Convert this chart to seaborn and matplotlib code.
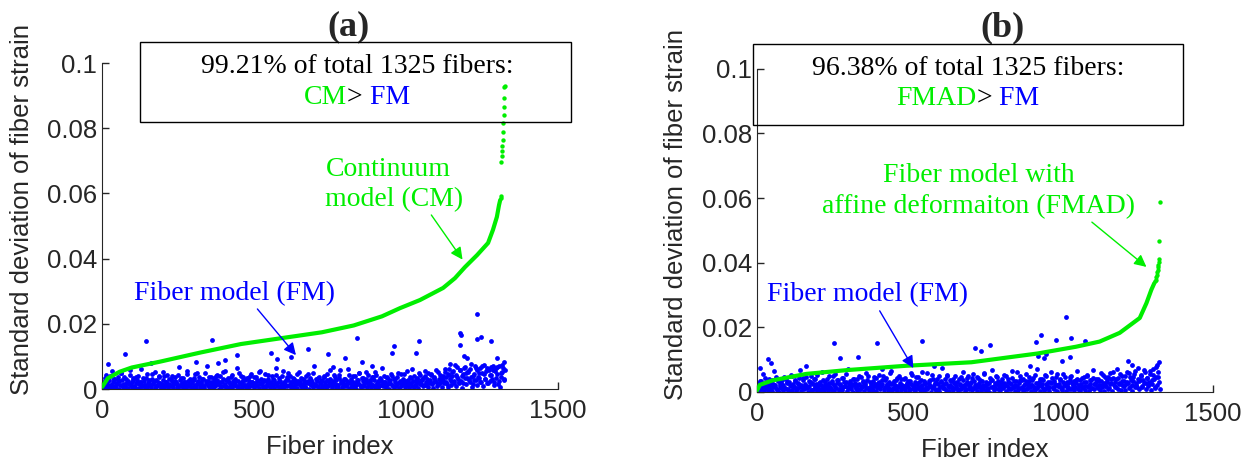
import numpy as np
import pandas as pd
import matplotlib
matplotlib.use("Agg")
import matplotlib.pyplot as plt
from matplotlib.patches import Rectangle
from matplotlib.offsetbox import TextArea, HPacker, AnnotationBbox
import seaborn as sns

# ===================== DATA =====================
n_fibers = 1325

# (a) continuum model, sorted ascending -> smooth curve + sparse tail dots
cm_idx = [1, 19, 58, 98, 191, 324, 457, 590, 723, 828, 921, 980, 1046, 1122,
          1161, 1194, 1234, 1270, 1286, 1299, 1306, 1310]
cm_val = [0.0007, 0.0033, 0.0053, 0.0066, 0.0084, 0.0112, 0.0138, 0.0156, 0.0174,
          0.0195, 0.0223, 0.0248, 0.0273, 0.0310, 0.0340, 0.0374, 0.0411, 0.0448,
          0.0488, 0.0528, 0.0564, 0.0580]
cm_tail_idx = [1312, 1313, 1314, 1315, 1316, 1317, 1318, 1319, 1320, 1321, 1322, 1323, 1324, 1325]
cm_tail_val = [0.0585, 0.0592, 0.0697, 0.0715, 0.0730, 0.0745, 0.0765, 0.0790,
               0.0816, 0.0840, 0.0865, 0.0893, 0.0926, 0.0930]

# (b) fiber model with affine deformation
fmad_idx = [1, 10, 52, 163, 300, 489, 706, 923, 1050, 1128, 1194, 1260, 1282, 1298, 1308]
fmad_val = [0.0005, 0.0022, 0.0036, 0.0056, 0.0068, 0.0081, 0.0092, 0.0119, 0.0140,
            0.0156, 0.0183, 0.0229, 0.0275, 0.0316, 0.0337]
fmad_tail_idx = [1310, 1312, 1314, 1316, 1318, 1319, 1320, 1321, 1322, 1323, 1324, 1325]
fmad_tail_val = [0.0342, 0.0348, 0.0355, 0.0362, 0.0370, 0.0378, 0.0386, 0.0394,
                 0.0402, 0.0410, 0.0467, 0.0588]

# fiber model values (in 1e-3) for fibers 1, 5, 9, ...
fm_a_milli = [
    0.3, 1.8, 0.6, 4.2, 0.9, 2.4, 0.2, 1.1, 5.6, 0.7, 3.1, 0.4, 1.5, 2.7, 0.1, 4.8, 1.2, 0.5, 3.6, 0.8,
    2.1, 0.3, 1.4, 5.9, 0.6, 2.9, 1.0, 0.2, 3.8, 1.7, 0.4, 2.2, 6.1, 0.9, 1.3, 0.1, 3.3, 0.7, 2.6, 1.1,
    0.5, 4.5, 1.9, 0.2, 2.8, 0.8, 1.4, 3.9, 0.3, 1.6, 5.2, 0.6, 2.3, 0.9, 0.1, 3.0, 1.2, 4.1, 0.4, 1.8,
    2.5, 0.7, 0.2, 6.8, 1.3, 3.4, 0.5, 1.0, 2.0, 0.3, 4.6, 1.5, 0.8, 2.7, 0.1, 3.5, 1.1, 0.6, 5.0, 2.2,
    0.4, 1.7, 3.2, 0.9, 0.2, 2.4, 7.2, 1.3, 0.6, 3.7, 1.9, 0.3, 2.9, 0.8, 4.3, 1.4, 0.1, 2.1, 0.5, 3.1,
    1.0, 5.5, 0.7, 2.6, 0.2, 1.6, 3.8, 0.4, 1.2, 2.3, 0.9, 6.3, 0.3, 1.8, 4.0, 0.6, 2.8, 1.1, 0.2, 3.3,
    1.5, 0.5, 4.7, 2.0, 0.8, 0.1, 3.6, 1.3, 2.5, 0.4, 5.4, 1.7, 0.7, 2.9, 0.3, 1.0, 4.4, 2.2, 0.6, 1.4,
    3.0, 0.2, 1.9, 6.5, 0.9, 2.4, 0.5, 1.2, 3.9, 0.3, 1.6, 2.7, 0.8, 4.9, 1.1, 0.2, 2.1, 3.4, 0.6, 1.5,
    0.4, 2.6, 5.1, 1.0, 0.3, 3.2, 1.8, 0.7, 2.3, 4.6, 0.1, 1.4, 2.9, 0.5, 7.0, 1.2, 0.8, 3.5, 0.2, 1.9,
    2.4, 0.6, 4.1, 1.3, 0.3, 2.8, 0.9, 5.8, 1.6, 0.4, 2.0, 3.7, 0.7, 1.1, 0.2, 4.3, 2.5, 0.5, 1.7, 3.1,
    0.8, 1.4, 6.0, 0.3, 2.2, 1.0, 3.9, 0.6, 1.8, 0.1, 2.7, 4.8, 1.2, 0.4, 3.3, 0.9, 2.0, 5.3, 0.5, 1.5,
    2.9, 0.2, 1.1, 3.6, 0.7, 4.4, 1.9, 0.3, 2.5, 1.3, 6.6, 0.8, 2.1, 0.4, 3.4, 1.6, 0.1, 2.8, 4.0, 1.0,
    0.6, 3.1, 1.4, 5.0, 0.3, 2.3, 0.9, 1.7, 4.5, 0.5, 2.6, 1.2, 0.2, 3.8, 1.9, 6.2, 0.7, 2.4, 1.1, 3.5,
    0.4, 4.2, 1.5, 2.9, 0.8, 5.6, 1.3, 3.2, 0.6, 2.1, 4.7, 1.8, 0.3, 3.6, 2.5, 0.9, 5.1, 1.4, 2.8, 0.5,
    3.9, 1.7, 6.0, 2.3, 0.7, 4.4, 3.0, 1.2, 5.3, 2.6, 7.4, 0.9, 3.7, 1.9, 5.8, 2.4, 0.4, 4.6, 6.7, 1.5,
    3.3, 5.5, 2.0, 7.8, 0.6, 4.1, 2.9, 6.3, 1.3, 3.8, 5.0, 2.2, 7.1, 0.8, 4.7, 3.1, 6.6, 1.7, 5.9, 2.6,
    4.3, 7.0, 1.1, 5.4, 3.5, 6.8, 2.4, 0.5, 4.9, 7.5, 3.0, 5.7,
]
# fibers 3, 7, 11, ...
fm_a_milli_2 = [
    2.2, 1.0, 3.4, 1.6, 0.8, 2.7, 4.1, 1.3, 2.0, 3.0, 0.9, 1.9, 3.7, 2.4, 1.2, 5.0, 2.8, 1.5, 0.7, 3.2,
    1.8, 2.6, 4.4, 1.1, 2.3, 3.5, 0.6, 1.7, 2.9, 4.0, 1.4, 2.1, 0.9, 3.3, 2.5, 1.2, 4.6, 1.9, 2.8, 0.8,
    3.1, 1.5, 2.4, 5.3, 1.0, 2.0, 3.6, 1.7, 0.7, 2.7, 3.9, 1.3, 2.2, 4.3, 1.6, 0.9, 3.0, 2.5, 1.1, 3.8,
    2.1, 1.4, 4.2, 2.9, 0.8, 1.8, 3.4, 2.3, 1.2, 5.6, 2.6, 1.0, 3.2, 1.9, 0.7, 2.8, 4.5, 1.5, 2.4, 3.6,
    1.3, 2.0, 3.0, 0.9, 4.8, 1.7, 2.5, 3.7, 1.1, 2.2, 0.8, 3.3, 1.9, 4.1, 2.7, 1.4, 3.9, 1.0, 2.3, 5.2,
    1.6, 2.9, 0.7, 3.5, 2.1, 1.2, 4.4, 2.6, 1.8, 3.1, 0.9, 2.4, 4.9, 1.5, 2.0, 3.8, 1.3, 2.7, 1.0, 3.4,
    2.5, 4.0, 1.1, 2.2, 3.6, 1.7, 0.8, 2.9, 5.1, 1.4, 3.2, 2.0, 1.0, 4.5, 2.6, 1.6, 3.0, 0.7, 2.3, 3.9,
    1.2, 2.8, 4.3, 1.9, 0.9, 3.4, 2.4, 1.5, 5.5, 2.1, 1.0, 3.7, 2.7, 1.3, 4.1, 2.0, 0.8, 3.1, 1.8, 2.5,
    4.6, 1.4, 2.3, 3.3, 1.1, 2.9, 0.7, 4.0, 1.7, 2.6, 3.5, 1.2, 2.1, 5.0, 1.5, 3.0, 2.4, 0.9, 3.8, 1.9,
    2.7, 1.0, 3.6, 2.2, 4.7, 1.3, 2.0, 3.2, 0.8, 2.5, 4.2, 1.6, 2.9, 1.1, 3.4, 5.7, 1.8, 2.3, 0.9, 3.0,
    1.4, 2.6, 4.4, 1.7, 3.1, 0.8, 2.2, 3.9, 1.2, 2.8, 1.9, 4.9, 1.0, 3.5, 2.4, 1.5, 3.0, 2.1, 4.3, 1.3,
    2.0, 3.7, 1.1, 2.9, 5.2, 1.6, 2.4, 0.9, 3.3, 2.7, 1.4, 4.1, 2.2, 1.0, 3.6, 2.5, 1.8, 4.7, 1.2, 3.1,
    2.3, 0.8, 3.8, 1.9, 2.6, 4.5, 1.5, 3.0, 2.1, 1.1, 5.4, 2.8, 1.7, 3.4, 0.9, 2.4, 4.0, 1.3, 3.2, 2.0,
    4.8, 1.6, 2.7, 3.5, 1.2, 3.9, 2.2, 5.0, 1.8, 2.9, 4.2, 1.4, 3.3, 2.5, 5.8, 1.9, 3.0, 4.4, 2.3, 3.7,
    2.8, 5.1, 3.6, 1.5, 4.7, 6.2, 2.4, 3.9, 5.5, 1.9, 4.3, 6.9, 3.1, 2.2, 5.9, 4.0, 1.7, 6.4, 3.4, 4.8,
    5.2, 2.7, 6.0, 3.8, 1.4, 4.6, 7.0, 2.9, 5.7, 3.5, 6.5, 2.1, 4.9, 7.3, 3.2, 5.4, 1.8, 6.1, 4.2, 6.8,
    3.0, 5.8, 2.3, 6.6, 4.5, 1.6, 7.1, 3.7, 5.1, 6.3, 2.8,
]
fm_b_milli = [
    1.2, 0.4, 3.3, 0.8, 2.1, 5.7, 0.2, 1.6, 2.9, 0.6, 4.0, 1.0, 0.3, 2.5, 6.4, 1.4, 0.7, 3.6, 0.1, 1.9,
    2.7, 0.5, 4.6, 1.3, 0.9, 3.1, 0.2, 2.2, 5.2, 0.7, 1.5, 3.8, 0.4, 1.1, 2.6, 6.9, 0.3, 1.7, 4.3, 0.8,
    2.0, 1.2, 0.1, 3.5, 5.0, 0.6, 2.4, 1.0, 4.1, 0.3, 1.8, 2.8, 0.7, 6.1, 1.4, 0.2, 3.2, 2.1, 0.5, 4.8,
    1.6, 0.9, 2.9, 0.4, 5.5, 1.2, 3.7, 0.2, 2.3, 1.0, 0.6, 4.4, 1.9, 3.0, 0.3, 7.1, 1.5, 0.8, 2.6, 0.1,
    3.9, 1.3, 0.5, 2.2, 4.9, 0.9, 1.7, 3.4, 0.2, 2.7, 6.0, 1.1, 0.4, 3.1, 1.8, 0.7, 4.5, 2.4, 0.3, 1.4,
    5.3, 0.8, 2.0, 3.6, 0.1, 1.6, 4.2, 2.5, 0.6, 1.0, 6.6, 0.4, 2.9, 1.3, 3.8, 0.2, 1.9, 5.1, 0.7, 2.3,
    1.1, 4.0, 0.5, 2.6, 1.5, 0.3, 3.3, 5.8, 0.9, 2.1, 0.2, 4.7, 1.2, 3.0, 0.6, 1.8, 6.3, 0.4, 2.8, 1.4,
    0.8, 3.5, 2.0, 0.1, 5.4, 1.6, 2.7, 0.5, 4.1, 1.0, 0.3, 3.2, 7.3, 1.3, 2.4, 0.7, 4.8, 1.9, 0.2, 3.7,
    1.5, 0.6, 2.9, 5.0, 1.1, 0.4, 3.9, 2.2, 0.8, 6.2, 1.4, 0.2, 2.6, 4.4, 0.9, 1.7, 3.1, 0.5, 5.6, 1.2,
    2.3, 0.3, 4.3, 1.8, 0.7, 3.4, 1.0, 5.9, 0.4, 2.5, 1.3, 0.1, 3.6, 6.8, 1.6, 0.6, 2.8, 4.6, 0.9, 1.9,
    0.5, 3.0, 1.4, 5.2, 2.1, 0.2, 4.0, 1.1, 2.7, 0.8, 6.5, 1.7, 0.3, 3.3, 2.0, 0.6, 4.9, 1.2, 3.8, 0.4,
    2.4, 5.7, 0.9, 1.5, 3.5, 0.2, 2.2, 4.2, 1.0, 0.5, 7.0, 1.8, 2.9, 0.3, 3.9, 1.3, 0.7, 5.3, 2.6, 1.1,
    0.4, 3.2, 6.1, 1.6, 0.8, 2.5, 4.5, 0.2, 1.9, 3.7, 1.2, 0.6, 5.5, 2.1, 0.3, 3.0, 1.5, 4.7, 0.9, 2.8,
    1.7, 0.5, 3.6, 6.4, 1.0, 2.3, 0.3, 4.4, 1.4, 3.1, 0.7, 5.0, 2.0, 0.2, 3.8, 1.3, 6.7, 0.8, 2.6, 4.1,
    1.1, 3.4, 0.6, 5.8, 2.2, 0.4, 4.6, 1.8, 3.0, 0.9, 6.0, 2.7, 0.3, 4.3, 1.5, 3.9, 7.2, 1.0, 2.4, 0.5,
    5.1, 1.9, 3.5, 0.7, 6.2, 2.8, 1.2, 4.5, 0.4, 3.3, 5.6, 1.6, 2.1, 7.5, 0.8, 3.7, 4.9, 1.4, 2.9, 6.1,
    1.0, 4.2, 2.5, 6.6, 0.6, 3.6, 5.2, 1.3, 7.8, 2.2, 4.7, 0.9,
]
fm_b_milli_2 = [
    1.9, 2.8, 0.9, 3.5, 1.4, 2.3, 4.2, 1.1, 3.0, 2.0, 0.7, 2.6, 3.8, 1.6, 2.2, 4.6, 1.0, 3.3, 2.5, 1.3,
    3.6, 2.1, 1.2, 4.0, 2.7, 0.8, 3.1, 1.8, 5.0, 2.4, 1.5, 3.4, 0.9, 2.9, 4.3, 1.7, 2.2, 3.7, 1.1, 2.6,
    4.5, 1.4, 2.0, 3.2, 0.7, 2.8, 3.9, 1.6, 2.4, 5.3, 1.2, 3.0, 2.1, 0.9, 3.6, 2.5, 1.3, 4.1, 1.9, 2.7,
    1.0, 3.3, 4.8, 2.2, 1.5, 2.9, 3.7, 0.8, 2.4, 4.4, 1.7, 3.1, 2.0, 5.6, 1.2, 2.6, 3.5, 1.4, 4.0, 2.3,
    2.8, 1.1, 3.9, 2.5, 0.9, 4.7, 1.8, 3.0, 2.2, 1.3, 3.6, 5.1, 1.6, 2.7, 0.8, 3.4, 2.0, 4.3, 1.5, 2.9,
    3.2, 1.9, 2.4, 4.9, 1.0, 3.7, 2.1, 1.4, 3.0, 5.8, 2.6, 1.2, 3.5, 2.3, 0.9, 4.2, 1.7, 2.8, 3.9, 1.3,
    2.0, 4.4, 1.6, 2.7, 3.3, 0.8, 2.4, 5.2, 1.9, 3.1, 1.1, 2.5, 4.6, 1.5, 3.8, 2.2, 1.0, 3.4, 2.9, 6.0,
    1.4, 2.6, 3.6, 1.2, 4.1, 2.1, 0.9, 3.0, 2.4, 4.8, 1.7, 3.3, 2.0, 1.3, 3.9, 2.7, 5.4, 1.6, 2.3, 3.5,
    1.1, 4.0, 2.8, 1.8, 3.2, 0.8, 2.5, 4.5, 1.5, 3.7, 2.2, 1.0, 3.0, 5.0, 1.9, 2.6, 4.2, 1.3, 3.4, 2.1,
    4.7, 1.6, 2.9, 3.8, 1.2, 2.3, 5.5, 1.9, 3.1, 0.9, 2.7, 4.3, 1.4, 3.6, 2.0, 1.1, 4.9, 2.5, 3.3, 1.7,
    2.4, 3.9, 1.3, 2.8, 5.1, 1.8, 3.2, 0.9, 2.6, 4.4, 1.5, 3.5, 2.1, 6.2, 1.2, 2.9, 3.7, 1.6, 4.1, 2.3,
    1.0, 3.4, 2.5, 4.6, 1.7, 2.2, 3.8, 1.4, 5.3, 2.7, 1.1, 3.1, 4.0, 1.9, 2.4, 3.6, 0.8, 4.8, 2.0, 3.0,
    1.5, 2.8, 4.3, 1.2, 3.5, 2.1, 5.7, 1.8, 2.6, 3.9, 1.3, 3.2, 2.3, 4.5, 1.6, 2.9, 1.0, 3.7, 5.0, 2.2,
    3.3, 1.4, 2.7, 4.1, 1.9, 3.6, 2.4, 1.1, 4.7, 2.0, 3.0, 5.4, 1.7, 2.6, 3.8, 1.2, 4.4, 2.5, 3.1, 1.6,
    4.0, 2.3, 3.4, 1.5, 5.2, 2.8, 1.9, 3.7, 4.6, 1.3, 2.5, 3.9, 6.1, 2.1, 3.2, 1.7, 4.3, 2.9, 5.6, 2.4,
    3.5, 1.8, 4.8, 2.6, 3.1, 5.9, 1.4, 3.8, 2.2, 4.5, 6.4, 2.9, 1.6, 4.1, 3.3, 5.3, 2.0, 3.6, 6.8, 2.7,
    4.4, 1.9, 3.2, 5.5, 2.5, 7.0, 3.9, 1.5, 4.7, 6.3, 3.0,
]
# isolated high FM values: (fiber index, value in 1e-3)
fm_a_out_idx = [21, 76, 145, 162, 310, 362, 383, 403, 443, 557, 574, 623, 677, 743, 761, 800,
                838, 854, 887, 954, 961, 1033, 1042, 1146, 1179, 1181, 1179, 1192, 1201, 1232,
                1235, 1248, 1279, 1301, 1321]
fm_a_out_milli = [7.7, 10.8, 14.6, 8.1, 8.4, 15.1, 7.9, 8.9, 10.5, 11.2, 9.1, 9.9, 12.2, 10.8, 6.9, 9.4,
                  15.6, 8.4, 7.1, 11.0, 13.2, 11.2, 14.8, 7.7, 17.3, 16.6, 13.5, 10.2, 9.6, 23.1,
                  15.4, 15.9, 14.8, 9.4, 8.4]
fm_b_out_idx = [12, 38, 47, 163, 255, 275, 334, 397, 413, 545, 584, 718, 737, 768, 900, 920, 926,
                935, 946, 953, 986, 1005, 1016, 1032, 1034, 1080, 1222, 1236, 1316, 1324]
fm_b_out_milli = [7.4, 10.3, 9.0, 8.0, 15.1, 10.5, 10.7, 15.3, 7.2, 15.9, 8.0, 13.6, 12.6, 14.6, 8.0,
                  15.4, 11.0, 17.7, 10.5, 11.7, 16.1, 9.5, 23.3, 10.7, 16.6, 15.8, 9.5, 8.5, 8.5, 9.3]

# ===================== TABLES =====================
fm_x1 = np.arange(1, n_fibers + 1, 4)
fm_x2 = np.arange(3, n_fibers + 1, 4)
fm_a = pd.DataFrame({"idx": np.r_[fm_x1, fm_x2, fm_a_out_idx],
                     "val": np.r_[fm_a_milli, fm_a_milli_2, fm_a_out_milli] / 1000})
fm_b = pd.DataFrame({"idx": np.r_[fm_x1, fm_x2, fm_b_out_idx],
                     "val": np.r_[fm_b_milli, fm_b_milli_2, fm_b_out_milli] / 1000})
cm = pd.DataFrame({"idx": cm_idx, "val": cm_val})
cm_tail = pd.DataFrame({"idx": cm_tail_idx, "val": cm_tail_val})
fmad = pd.DataFrame({"idx": fmad_idx, "val": fmad_val})
fmad_tail = pd.DataFrame({"idx": fmad_tail_idx, "val": fmad_tail_val})

# ===================== STYLE =====================
sns.set_style("ticks")
plt.rcParams['font.family'] = ['Liberation Sans', 'DejaVu Sans']
plt.rcParams['xtick.direction'] = 'in'
plt.rcParams['ytick.direction'] = 'in'

GREEN = "#00ee00"
BLUE = "#0000ff"
AX_COL = "#262626"
SERIF = ['Liberation Serif', 'DejaVu Serif']

fig = plt.figure(figsize=(12.55, 4.65), dpi=100)
ax_a = fig.add_axes([0.0813, 0.1634, 0.3633, 0.701])
ax_b = fig.add_axes([0.603, 0.157, 0.3633, 0.695])


def colored_line(ax, parts, x, y):
    boxes = [TextArea(t, textprops=dict(color=c, fontsize=20, family=SERIF)) for t, c in parts]
    pack = HPacker(children=boxes, pad=0, sep=0, align="baseline")
    ab = AnnotationBbox(pack, (x, y), xycoords="data", frameon=False,
                        box_alignment=(0.5, 0.5), pad=0, annotation_clip=False)
    ax.add_artist(ab)


def setup_axes(ax):
    ax.set_xlim(0, 1500)
    ax.set_ylim(0, 0.1)
    ax.set_xticks([0, 500, 1000, 1500])
    ax.set_yticks([0, 0.02, 0.04, 0.06, 0.08, 0.1])
    ax.set_yticklabels(["0", "0.02", "0.04", "0.06", "0.08", "0.1"])
    ax.tick_params(labelsize=18.5, colors=AX_COL, length=5, width=1)
    ax.tick_params(axis="x", pad=7)
    for s in ["left", "bottom"]:
        ax.spines[s].set_color(AX_COL)
    sns.despine(ax=ax)
    ax.set_xlabel("Fiber index", fontsize=18.5, color=AX_COL, labelpad=9)
    ax.set_ylabel("Standard deviation of fiber strain", fontsize=18.5, color=AX_COL)
    ax.yaxis.set_label_coords(-0.150, 0.55)


for ax, fm, line, tail in [(ax_a, fm_a, cm, cm_tail), (ax_b, fm_b, fmad, fmad_tail)]:
    sns.scatterplot(data=fm, x="idx", y="val", ax=ax, color=BLUE, s=12,
                    linewidth=0, legend=False, zorder=2)
    sns.lineplot(data=line, x="idx", y="val", ax=ax, color=GREEN, lw=3,
                 legend=False, zorder=3)
    sns.scatterplot(data=tail, x="idx", y="val", ax=ax, color=GREEN, s=10,
                    linewidth=0, legend=False, zorder=3)
    setup_axes(ax)

# ---------- panel (a) ----------
ax_a.text(812, 1.110, "(a)", transform=ax_a.get_xaxis_transform(), ha="center", va="center",
          fontsize=26, fontweight="bold", family=SERIF)
ax_a.add_patch(Rectangle((124, 0.0819), 1419, 0.0245, fill=False, ec="black", lw=1,
                         clip_on=False, zorder=5))
ax_a.text(838, 0.0988, "99.21% of total 1325 fibers:", ha="center", va="center",
          fontsize=20, family=SERIF, color="black")
colored_line(ax_a, [("CM", GREEN), (">", "black"), (" FM", BLUE)], 838, 0.0893)
ax_a.annotate("Continuum\nmodel (CM)", xy=(1186, 0.0397), xytext=(735, 0.0628),
              ha="left", va="center", fontsize=20, family=SERIF, color=GREEN, linespacing=1.25,
              arrowprops=dict(arrowstyle="-|>", color=GREEN, lw=1, mutation_scale=18,
                              shrinkA=0, shrinkB=0, relpos=(0.75, 0.0)))
ax_a.annotate("Fiber model (FM)", xy=(638, 0.0104), xytext=(436, 0.0294),
              ha="center", va="center", fontsize=20, family=SERIF, color=BLUE,
              arrowprops=dict(arrowstyle="-|>", color=BLUE, lw=1, mutation_scale=18,
                              shrinkA=0, shrinkB=0, relpos=(0.6, 0.0)))

# ---------- panel (b) ----------
ax_b.text(809, 1.128, "(b)", transform=ax_b.get_xaxis_transform(), ha="center", va="center",
          fontsize=26, fontweight="bold", family=SERIF)
ax_b.add_patch(Rectangle((-13, 0.0827), 1415, 0.025, fill=False, ec="black", lw=1,
                         clip_on=False, zorder=5))
ax_b.text(695, 0.1, "96.38% of total 1325 fibers:", ha="center", va="center",
          fontsize=20, family=SERIF, color="black")
colored_line(ax_b, [("FMAD", GREEN), (">", "black"), (" FM", BLUE)], 695, 0.0907)
ax_b.annotate("Fiber model with\naffine deformaiton (FMAD)", xy=(1282, 0.0387),
              xytext=(729, 0.0622), ha="center", va="center", multialignment="center",
              fontsize=20, family=SERIF, color=GREEN, linespacing=1.3,
              arrowprops=dict(arrowstyle="-|>", color=GREEN, lw=1, mutation_scale=18,
                              shrinkA=0, shrinkB=0, relpos=(0.85, 0.0)))
ax_b.annotate("Fiber model (FM)", xy=(515, 0.0074), xytext=(365, 0.030),
              ha="center", va="center", fontsize=20, family=SERIF, color=BLUE,
              arrowprops=dict(arrowstyle="-|>", color=BLUE, lw=1, mutation_scale=18,
                              shrinkA=0, shrinkB=0, relpos=(0.55, 0.0)))

fig.savefig("out.png", dpi=100)
